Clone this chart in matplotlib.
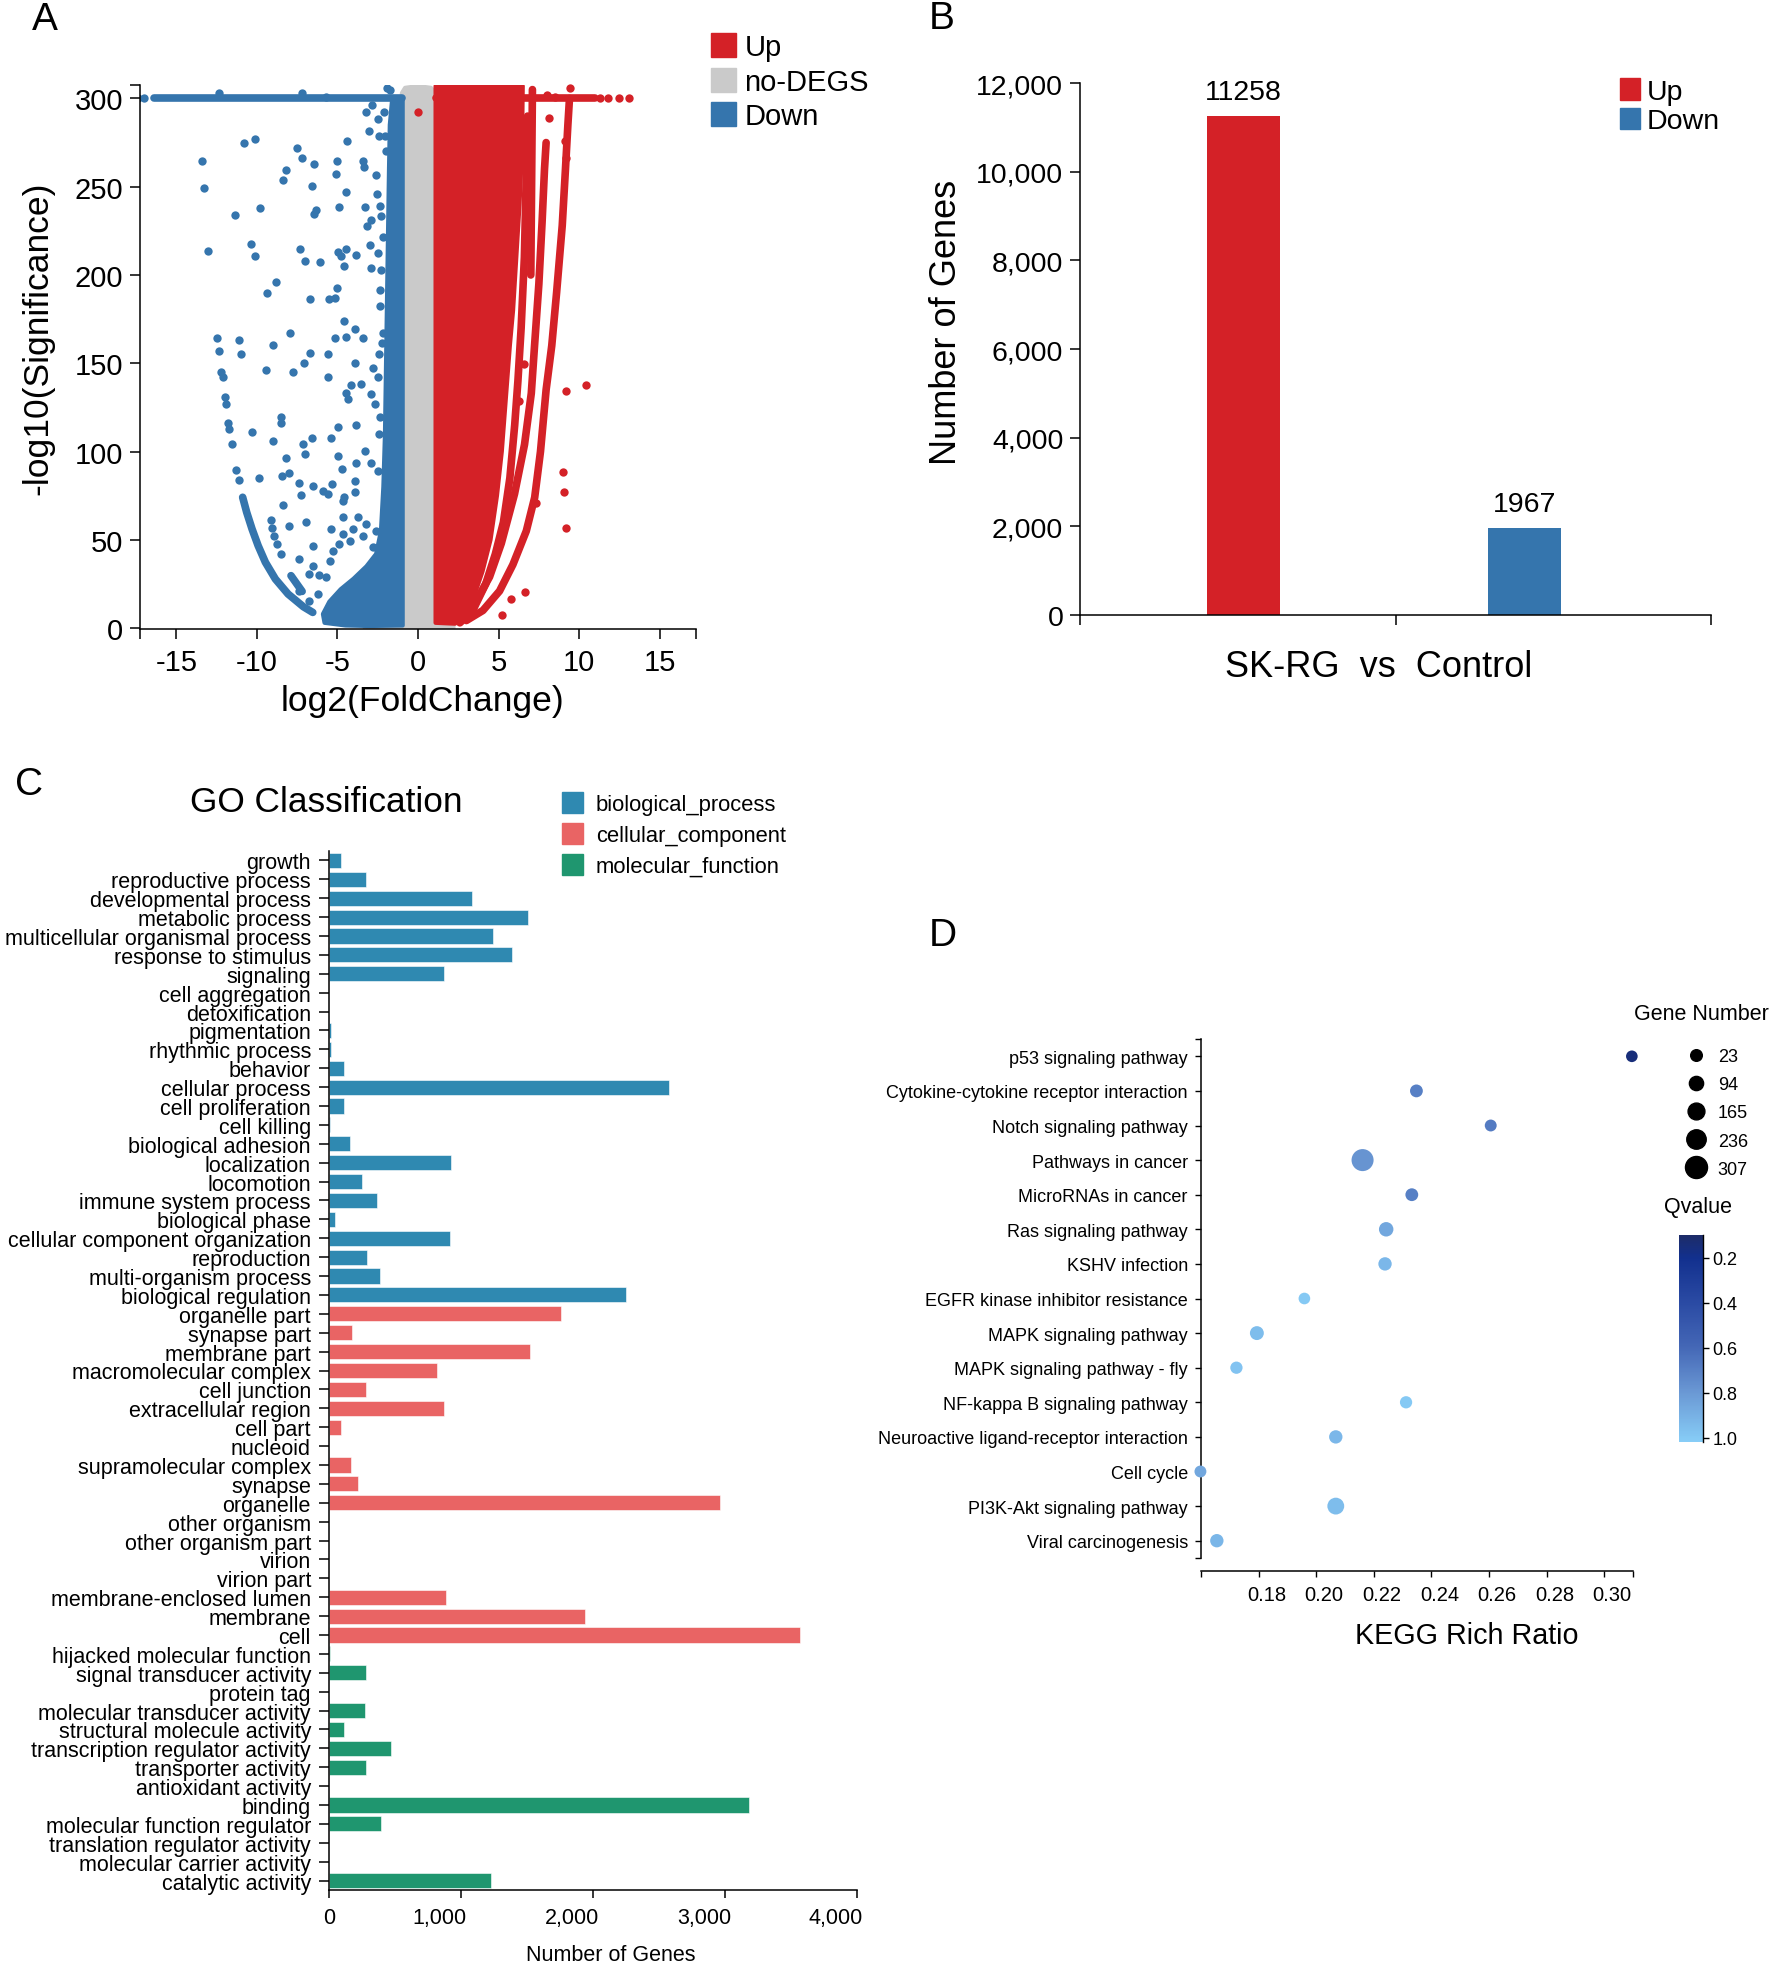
import numpy as np
import matplotlib
matplotlib.use("Agg")
import matplotlib.pyplot as plt
import matplotlib.transforms as mtransforms
from matplotlib.patches import Patch
from matplotlib.lines import Line2D
from matplotlib.colors import LinearSegmentedColormap, Normalize
from matplotlib.cm import ScalarMappable
from matplotlib.ticker import FuncFormatter

plt.rcParams["font.family"] = ["Liberation Sans", "DejaVu Sans"]
plt.rcParams["axes.linewidth"] = 1.1
plt.rcParams["axes.unicode_minus"] = False

W, H = 1770, 1965
RED, BLUE, GREY = "#d42127", "#3575ad", "#cacaca"

# ---------------- panel A: volcano ----------------
# scattered "Down" genes
down_x = [-13.40, -13.30, -13.01, -10.80, -10.09, -11.36, -9.78, -10.36, -10.13, -7.48, -7.21, -8.19,
          -8.39, -6.45, -6.57, -6.36, -6.45, -7.34, -7.03, -6.06, -5.02, -5.08, -4.40, -4.48, -4.90,
          -4.98, -4.79, -4.46, -3.84, -4.58, -3.43, -3.35, -3.31, -2.93, -3.19, -2.95, -2.91, -2.58,
          -2.52, -2.35, -2.27, -2.49, -2.17, -3.01, -3.20, -2.85, -2.48, -2.44, -2.06, -2.14, -1.99,
          -9.35, -8.81, -6.70, -5.54, -5.15, -5.02, -4.57, -3.90, -3.43, -4.46, -5.12, -7.94, -9.02,
          -11.09, -10.99, -6.72, -5.60, -2.37, -2.35, -2.30, -2.17, -2.21, -2.42,
          -9.45, -7.73, -7.09, -5.56, -3.88, -10.30, -9.02, -8.48, -8.48, -9.84, -8.44, -7.98, -8.17,
          -7.15, -7.01, -6.57, -5.39, -4.98, -4.94, -4.73, -3.84, -3.30, -2.93, -3.84, -2.51, -4.44,
          -4.36, -4.17, -3.52, -2.80, -2.47, -2.91, -2.68, -2.35, -2.39, -7.40, -7.28, -6.49, -5.87,
          -5.58, -5.33, -4.67, -4.57, -3.90, -3.88, -8.37, -8.02, -6.98, -9.14, -9.06, -8.93, -8.75,
          -8.50, -7.40, -6.78, -6.49, -6.16, -5.70, -5.49, -5.25, -4.67, -4.88, -4.25, -4.04, -3.73,
          -3.43, -3.22, -2.80, -2.59, -4.67, -5.39, -6.49, -7.36, -6.74, -6.22,
          -12.33, -7.19, -5.68, -1.92, -1.72, -17.40, -17.00]
down_y = [264.5, 249.2, 213.7, 274.9, 277.0, 233.9, 238.0, 217.8, 210.6, 272.0, 266.0, 259.6,
          253.7, 262.8, 250.3, 236.7, 234.6, 214.6, 208.0, 207.4, 264.3, 257.3, 276.0, 246.9, 238.4,
          213.1, 210.6, 214.6, 211.4, 205.2, 264.7, 261.3, 238.7, 231.4, 228.0, 217.0, 204.0, 256.7,
          246.0, 238.8, 233.6, 212.3, 221.4, 281.7, 292.3, 296.3, 288.2, 278.5, 278.9, 292.1, 270.3,
          190.0, 196.0, 186.6, 186.2, 187.0, 192.6, 174.1, 169.6, 164.3, 164.9, 164.3, 167.3, 160.1,
          163.0, 155.4, 155.6, 155.4, 191.5, 182.4, 202.6, 167.3, 161.3, 155.1,
          146.4, 144.8, 150.3, 142.2, 150.4, 110.9, 105.7, 119.4, 116.1, 85.1, 85.9, 87.9, 96.6,
          104.3, 98.6, 107.6, 107.7, 114.1, 97.2, 89.9, 114.9, 100.3, 93.7, 93.3, 89.2, 133.1,
          130.0, 137.6, 138.3, 147.4, 142.2, 132.8, 127.1, 119.8, 109.9, 82.0, 75.3, 80.5, 77.8,
          76.0, 81.6, 72.2, 74.1, 76.9, 83.4, 69.9, 57.9, 59.9, 61.0, 56.6, 52.1, 47.6,
          41.9, 39.1, 30.5, 35.2, 29.9, 28.7, 38.2, 43.9, 53.4, 47.7, 49.5, 56.1, 62.7,
          52.3, 58.9, 45.7, 55.2, 62.7, 56.1, 46.7, 21.2, 15.5, 19.3,
          302.9, 303.3, 301.0, 306.1, 305.0, 300.0, 300.0]
# the left arc of "Down" genes
down_arc_x = [-12.45, -12.37, -12.20, -12.12, -11.98, -11.93, -11.76, -11.70, -11.54, -11.27, -11.10]
down_arc_y = [164.3, 156.7, 145.0, 142.5, 130.8, 126.7, 116.1, 112.9, 104.5, 89.6, 83.8]
down_curve_x = [-10.88, -10.63, -10.30, -9.92, -9.47, -8.85, -8.06, -7.11, -6.53]
down_curve_y = [74.1, 65.6, 56.2, 46.7, 37.3, 27.8, 19.3, 12.1, 8.9]
down_curve2_x = [-7.88, -7.19]
down_curve2_y = [29.7, 20.8]
down_top_run = [-16.4, -1.0]          # genes capped at 300
# dense "Down" band (outline)
down_env_x = [-0.95, -0.95, -1.6, -1.75, -1.8, -1.85, -1.9, -1.95, -2.0, -2.05, -2.15, -2.3, -2.6,
              -3.2, -4.0, -4.8, -5.5, -5.9, -5.8, -4.5, -3.0, -0.95]
down_env_y = [1.5, 300, 300, 285, 260, 230, 200, 170, 140, 110, 80, 55, 42, 35, 28, 22, 15, 8, 3,
              1.5, 1.2, 1.5]
# no-DEGS band (outline)
nodeg_env_x = [-1.0, -1.0, -0.8, 0.0, 0.8, 1.1, 1.1, 1.8, 2.2, 2.2, -3.3, -3.3]
nodeg_env_y = [1.5, 303, 306, 307, 306, 303, 3, 2.5, 1, 0, 0, 1.2]
# dense "Up" block (outline)
up_env_x = [1.09, 1.09, 6.5, 6.45, 6.3, 6.1, 5.9, 5.7, 5.45, 5.2, 4.9, 4.5, 4.0, 3.4, 2.8, 2.3, 1.09]
up_env_y = [3, 307, 307, 270, 240, 210, 180, 160, 130, 100, 75, 50, 32, 16, 6, 2.5, 3]
# "Up" curves right of the block
up_arc1_x = [2.6, 3.4, 4.2, 4.8, 5.3, 5.7, 6.0, 6.2, 6.4, 6.6, 6.7, 6.8]
up_arc1_y = [3, 10, 25, 42, 60, 85, 115, 140, 170, 210, 250, 290]
up_arc2_x = [3.4, 4.44, 5.17, 5.99, 6.61, 7.03, 7.24, 7.5, 7.7, 7.85, 7.95]
up_arc2_y = [12, 29, 48, 76, 104, 133, 161, 195, 230, 260, 275]
up_arc3_x = [3.0, 4.03, 5.06, 5.89, 6.72, 7.24, 7.6, 7.95, 8.3, 8.6, 8.95, 9.15, 9.3, 9.4]
up_arc3_y = [4.3, 10, 21, 36, 55, 74, 100, 135, 160, 190, 228, 260, 285, 300]
up_line_x = [7.0, 7.1]
up_line_y = [200, 305]
up_top_run = [1.1, 11.0]
up_x = [0.0, 8.13, 9.14, 9.20, 8.99, 9.06, 9.20, 9.16, 10.40, 7.34, 6.64, 5.77, 5.23, 6.55,
        6.24, 9.45, 8.0, 8.5, 11.3, 11.8, 12.5, 13.1]
up_y = [292.5, 288.7, 276.0, 266.0, 88.3, 77.3, 56.9, 134.4, 137.8, 70.8, 20.6, 16.3, 7.5, 149.4,
        128.6, 306.0, 302.0, 301.0, 300.0, 300.0, 300.0, 300.0]

# ---------------- panel B ----------------
deg_labels = ["Up", "Down"]
deg_counts = [11258, 1967]

# ---------------- panel C ----------------
bp_terms = ["growth", "reproductive process", "developmental process", "metabolic process",
            "multicellular organismal process", "response to stimulus", "signaling",
            "cell aggregation", "detoxification", "pigmentation", "rhythmic process", "behavior",
            "cellular process", "cell proliferation", "cell killing", "biological adhesion",
            "localization", "locomotion", "immune system process", "biological phase",
            "cellular component organization", "reproduction", "multi-organism process",
            "biological regulation"]
bp_counts = [90, 283, 1082, 1505, 1246, 1390, 869, 2, 3, 16, 16, 111, 2579, 115, 5, 160, 927,
             250, 361, 49, 918, 287, 385, 2251]
cc_terms = ["organelle part", "synapse part", "membrane part", "macromolecular complex",
            "cell junction", "extracellular region", "cell part", "nucleoid",
            "supramolecular complex", "synapse", "organelle", "other organism",
            "other organism part", "virion", "virion part", "membrane-enclosed lumen",
            "membrane", "cell"]
cc_counts = [1755, 176, 1521, 820, 277, 873, 90, 0, 168, 217, 2960, 3, 3, 0, 0, 890, 1943, 3571]
mf_terms = ["hijacked molecular function", "signal transducer activity", "protein tag",
            "molecular transducer activity", "structural molecule activity",
            "transcription regulator activity", "transporter activity", "antioxidant activity",
            "binding", "molecular function regulator", "translation regulator activity",
            "molecular carrier activity", "catalytic activity"]
mf_counts = [8, 279, 1, 271, 111, 472, 283, 3, 3182, 394, 2, 1, 1230]

# ---------------- panel D ----------------
kegg_terms = ["p53 signaling pathway", "Cytokine-cytokine receptor interaction",
              "Notch signaling pathway", "Pathways in cancer", "MicroRNAs in cancer",
              "Ras signaling pathway", "KSHV infection", "EGFR kinase inhibitor resistance",
              "MAPK signaling pathway", "MAPK signaling pathway - fly",
              "NF-kappa B signaling pathway", "Neuroactive ligand-receptor interaction",
              "Cell cycle", "PI3K-Akt signaling pathway", "Viral carcinogenesis"]
kegg_ratio = [0.3096, 0.2348, 0.2606, 0.2161, 0.2332, 0.2243, 0.2239, 0.1959, 0.1794, 0.1723,
              0.2312, 0.2068, 0.1598, 0.2068, 0.1655]
kegg_genes = [23, 55, 30, 307, 55, 100, 70, 23, 85, 40, 40, 70, 30, 165, 70]
kegg_q = [0.15, 0.70, 0.68, 0.78, 0.70, 0.86, 0.93, 1.0, 0.95, 0.98, 1.0, 0.93, 0.86, 0.95, 0.92]
size_levels = [23, 94, 165, 236, 307]


def box(l, t, r, b):
    return [l / W, 1 - b / H, (r - l) / W, (b - t) / H]


def gene_size(n):
    return (0.72 * (10.8 + 0.0366 * np.asarray(n))) ** 2


def shift_labels(axis, dx_px, ha):
    off = mtransforms.ScaledTranslation(dx_px / 100, 0, fig.dpi_scale_trans)
    for tick in axis.get_major_ticks():
        tick.label1.set_horizontalalignment(ha)
        tick.label1.set_transform(tick.label1.get_transform() + off)


fig = plt.figure(figsize=(W / 100, H / 100), dpi=100)

# ================= A =================
axA = fig.add_axes(box(140, 86, 696, 630))
axA.fill(nodeg_env_x, nodeg_env_y, color=GREY, ec=GREY, lw=3, joinstyle="round")
axA.fill(down_env_x, down_env_y, color=BLUE, ec=BLUE, lw=3, joinstyle="round")
axA.plot(down_top_run, [300, 300], color=BLUE, lw=5.5, solid_capstyle="round")
axA.plot(down_curve_x, down_curve_y, color=BLUE, lw=5.5, solid_capstyle="round")
axA.plot(down_curve2_x, down_curve2_y, color=BLUE, lw=5.5, solid_capstyle="round")
axA.scatter(down_x, down_y, s=36, color=BLUE, lw=0)
axA.scatter(down_arc_x, down_arc_y, s=36, color=BLUE, lw=0)
axA.fill(up_env_x, up_env_y, color=RED, ec=RED, lw=3, joinstyle="round")
for ax_, ay_ in [(up_arc1_x, up_arc1_y), (up_arc2_x, up_arc2_y), (up_arc3_x, up_arc3_y),
                 (up_line_x, up_line_y), (up_top_run, [300, 300])]:
    axA.plot(ax_, ay_, color=RED, lw=5.5, solid_capstyle="round", solid_joinstyle="round")
axA.scatter(up_x, up_y, s=36, color=RED, lw=0, clip_on=False)
axA.set_xlim(-17.25, 17.25)
axA.set_ylim(-0.5, 307.6)
axA.set_xticks(range(-15, 16, 5))
axA.set_xticks([-17.25, 17.25], minor=True)
axA.set_yticks(range(0, 301, 50))
axA.set_yticks([307.6], minor=True)
for s in ["top", "right"]:
    axA.spines[s].set_visible(False)
axA.tick_params(which="both", length=7, width=1.1, labelsize=21, pad=5)
axA.tick_params(axis="x", which="major", pad=7)
axA.set_xlabel("log2(FoldChange)", fontsize=25.5)
axA.set_ylabel("-log10(Significance)", fontsize=25.5)
axA.xaxis.set_label_coords(0.508, -0.132)
axA.yaxis.set_label_coords(-0.184, 0.536)
axA.xaxis.label.set_va("center")
axA.yaxis.label.set_va("center")
axA.legend(handles=[Patch(color=RED, label="Up"), Patch(color=GREY, label="no-DEGS"),
                    Patch(color=BLUE, label="Down")],
           loc="upper left", bbox_to_anchor=(711 / W, 1 - 34 / H), bbox_transform=fig.transFigure,
           frameon=False, fontsize=21, handlelength=0.85, handleheight=0.9, handletextpad=0.3,
           labelspacing=0.22, borderpad=0, borderaxespad=0)

# ================= B =================
axB = fig.add_axes(box(1080, 84, 1711, 616))
bar_pos = [0.519, 1.408]
axB.bar(bar_pos, deg_counts, width=0.23, color=[RED, BLUE])
for p, v in zip(bar_pos, deg_counts):
    axB.annotate(str(v), (p, v), xytext=(0, 8), textcoords="offset points", ha="center",
                 va="bottom", fontsize=20.5)
axB.set_xlim(0, 2)
axB.set_ylim(0, 12000)
axB.set_xticks([0, 1, 2])
axB.set_xticklabels([])
axB.set_yticks(range(0, 12001, 2000))
axB.yaxis.set_major_formatter(FuncFormatter(lambda v, p: f"{v:,.0f}"))
for s in ["top", "right"]:
    axB.spines[s].set_visible(False)
axB.tick_params(length=7, width=1.1, labelsize=20.5, pad=5)
axB.set_xlabel("SK-RG  vs  Control", fontsize=26)
axB.set_ylabel("Number of Genes", fontsize=26)
axB.xaxis.set_label_coords(0.474, -0.096)
axB.yaxis.set_label_coords(-0.212, 0.551)
axB.xaxis.label.set_va("center")
axB.yaxis.label.set_va("center")
axB.legend(handles=[Patch(color=RED, label="Up"), Patch(color=BLUE, label="Down")],
           loc="upper left", bbox_to_anchor=(1620 / W, 1 - 79 / H), bbox_transform=fig.transFigure,
           frameon=False, fontsize=20.5, handlelength=0.7, handleheight=0.8, handletextpad=0.25,
           labelspacing=0.1, borderpad=0, borderaxespad=0)

# ================= C =================
C_BLUE, C_RED, C_GREEN = "#2f89b1", "#e96464", "#1f966f"
axC = fig.add_axes(box(329, 852, 857, 1891))
go_terms = bp_terms + cc_terms + mf_terms
go_counts = bp_counts + cc_counts + mf_counts
go_colors = [C_BLUE] * len(bp_terms) + [C_RED] * len(cc_terms) + [C_GREEN] * len(mf_terms)
ypos = np.arange(len(go_terms))
axC.barh(ypos, go_counts, height=0.8, color=go_colors, edgecolor="white", linewidth=0.4)
axC.set_ylim(len(go_terms) - 0.5, -0.5)
axC.set_xlim(0, 4000)
axC.set_yticks(ypos)
axC.set_yticklabels(go_terms, fontsize=15.5)
axC.set_xticks(range(0, 4001, 1000))
axC.xaxis.set_major_formatter(FuncFormatter(lambda v, p: f"{v:,.0f}"))
for s in ["top", "right"]:
    axC.spines[s].set_visible(False)
axC.tick_params(axis="y", length=7, width=1.1, pad=6)
axC.tick_params(axis="x", length=6, width=1.1, labelsize=15.5, pad=6)
shift_labels(axC.xaxis, 6, "right")
axC.set_xlabel("Number of Genes", fontsize=15.5)
axC.xaxis.set_label_coords(0.534, -0.062)
axC.xaxis.label.set_va("center")
fig.text(326 / W, 1 - 803 / H, "GO Classification", fontsize=25.4, ha="center", va="center")
axC.legend(handles=[Patch(color=C_BLUE, label="biological_process"),
                    Patch(color=C_RED, label="cellular_component"),
                    Patch(color=C_GREEN, label="molecular_function")],
           loc="upper left", bbox_to_anchor=(562 / W, 1 - 793 / H), bbox_transform=fig.transFigure,
           frameon=False, fontsize=15.8, handlelength=0.95, handleheight=1.1, handletextpad=0.6,
           labelspacing=0.36, borderpad=0, borderaxespad=0)

# ================= D =================
cmap = LinearSegmentedColormap.from_list(
    "qv", [(0.0, "#1d2c68"), (0.11, "#12308e"), (0.33, "#2b4ba4"), (0.54, "#4467b6"),
           (0.76, "#6a98d4"), (1.0, "#87cdf7")])
norm = Normalize(vmin=0.1, vmax=1.02)
axD = fig.add_axes(box(1201, 1040, 1633, 1559))
kpos = np.arange(len(kegg_terms))
axD.scatter(kegg_ratio, kpos, s=gene_size(kegg_genes), c=kegg_q, cmap=cmap, norm=norm, lw=0,
            clip_on=False, zorder=3)
axD.set_ylim(len(kegg_terms) - 0.5, -0.5)
axD.set_xlim(0.16, 0.31)
axD.set_yticks(kpos)
axD.set_yticklabels(kegg_terms, fontsize=13)
axD.set_yticks([-0.5, len(kegg_terms) - 0.5], minor=True)
axD.set_xticks([0.18, 0.20, 0.22, 0.24, 0.26, 0.28, 0.30])
axD.set_xticks([0.16, 0.31], minor=True)
axD.xaxis.set_major_formatter(FuncFormatter(lambda v, p: f"{v:.2f}"))
for s in ["top", "right"]:
    axD.spines[s].set_visible(False)
axD.spines["bottom"].set_position(("outward", 9))
axD.tick_params(which="both", length=4.5, width=1.0)
axD.tick_params(axis="y", pad=5)
axD.tick_params(axis="x", labelsize=14.5, pad=6)
shift_labels(axD.xaxis, 8, "center")
axD.set_xlabel("KEGG Rich Ratio", fontsize=20.7)
axD.xaxis.set_label_coords(0.616, -0.148)
axD.xaxis.label.set_va("center")
size_handles = [Line2D([], [], marker="o", ls="", color="black",
                       markersize=float(np.sqrt(gene_size(n))), label=str(n)) for n in size_levels]
axD.legend(handles=size_handles, loc="upper left",
           bbox_to_anchor=(1687 / W, 1 - 1049 / H), bbox_transform=fig.transFigure,
           frameon=False, fontsize=13, handlelength=1.0, handletextpad=0.7, labelspacing=0.62,
           borderpad=0, borderaxespad=0)
fig.text(1701 / W, 1 - 1015 / H, "Gene Number", fontsize=15.5, ha="center", va="center")
fig.text(1698 / W, 1 - 1207 / H, "Qvalue", fontsize=15.5, ha="center", va="center")
cax = fig.add_axes(box(1679, 1236, 1703, 1443))
cb = fig.colorbar(ScalarMappable(norm=norm, cmap=cmap), cax=cax)
cb.outline.set_visible(False)
cax.invert_yaxis()
cb.set_ticks([0.2, 0.4, 0.6, 0.8, 1.0])
cb.set_ticklabels(["0.2", "0.4", "0.6", "0.8", "1.0"])
cax.tick_params(length=4, width=1.0, labelsize=13, pad=3)
cax.plot([1, 1], [0, 1], transform=cax.transAxes, color="black", lw=1.0, clip_on=False)

# panel letters
for letter, x, y in [("A", 45, 20), ("B", 942, 19), ("C", 29, 785), ("D", 943, 936)]:
    fig.text(x / W, 1 - y / H, letter, fontsize=28, ha="center", va="center")

fig.savefig("out.png", dpi=100)
